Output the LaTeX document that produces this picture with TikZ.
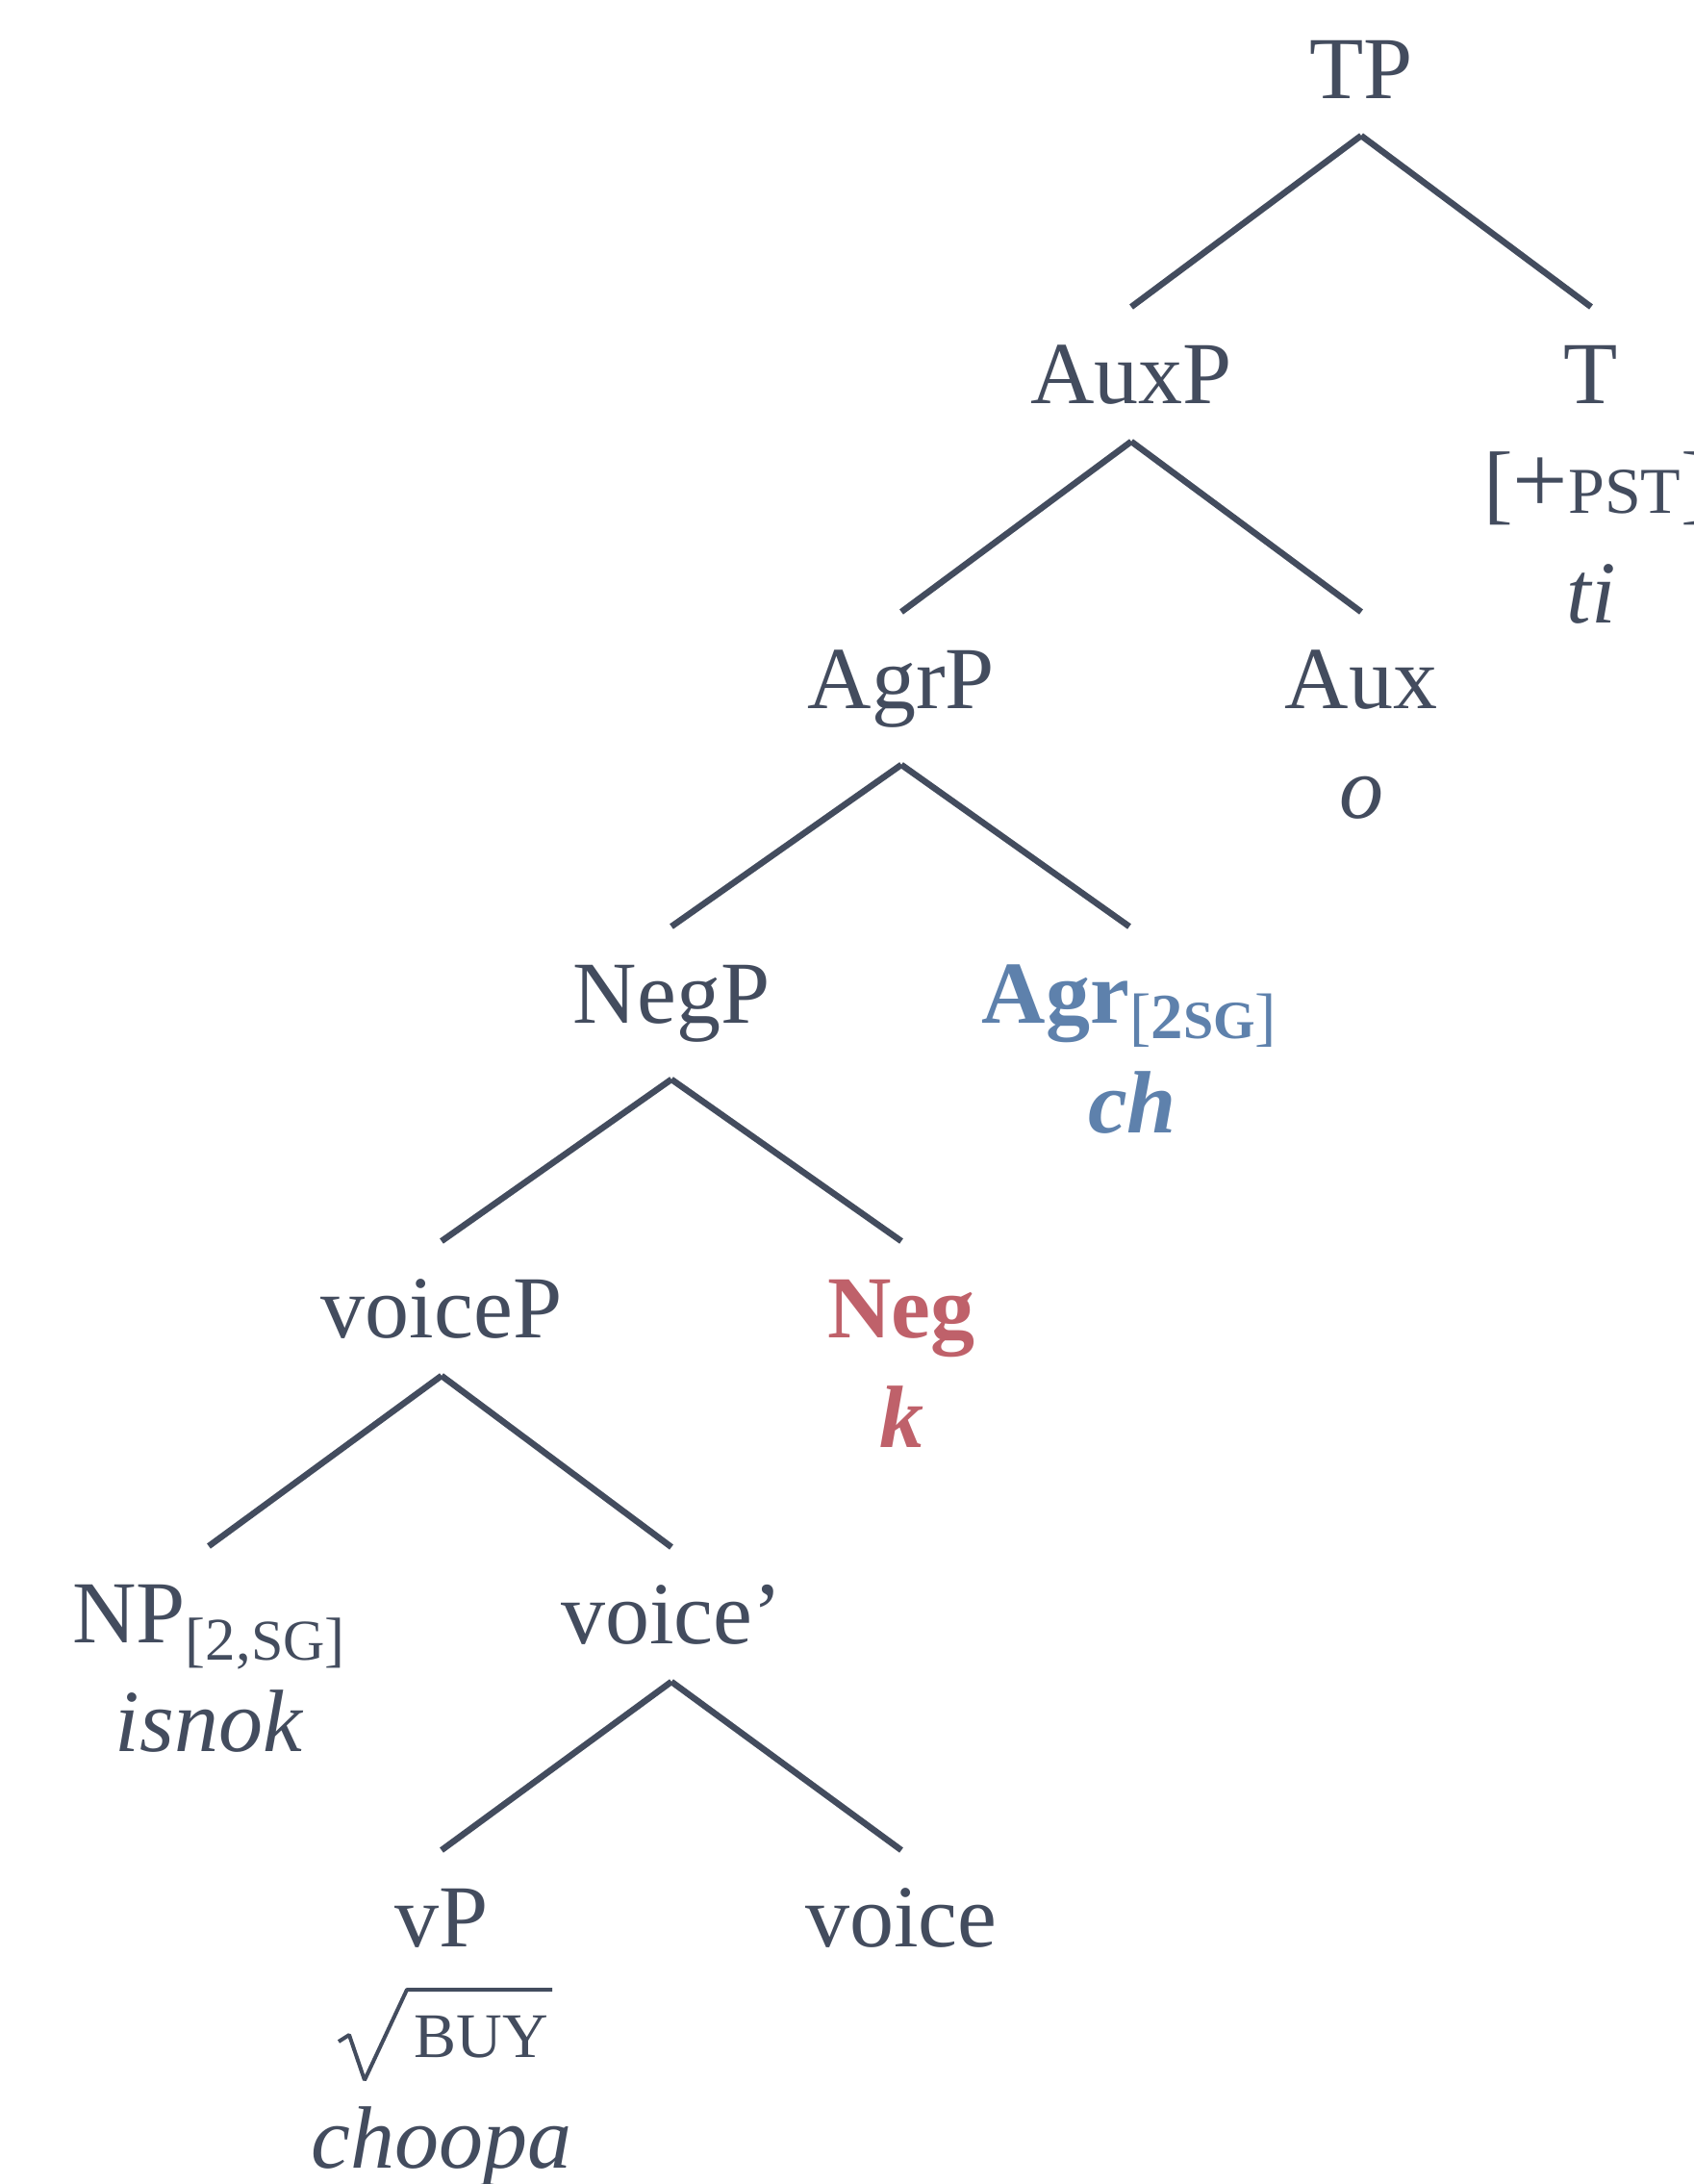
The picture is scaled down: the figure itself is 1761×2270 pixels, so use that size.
\documentclass[tikz,border=0pt]{standalone}
\usepackage{fontspec}
\setmainfont{Liberation Serif}
\definecolor{ink}{HTML}{434C5E}
\definecolor{aggblue}{HTML}{5E81AC}
\definecolor{negred}{HTML}{BF616A}
\newcommand\mainsz{\fontsize{92}{110}\selectfont}
\newcommand\fsz[2]{{\fontsize{#1}{#1}\selectfont #2}}
\begin{document}
\begin{tikzpicture}[x=1pt,y=-1pt,
  cat/.style={anchor=base, inner sep=0pt, outer xsep=0pt, outer ysep=39pt,
              text height=61pt, font=\mainsz, text=ink},
  sub/.style={anchor=base, inner sep=0pt, font=\mainsz, text=ink},
  lex/.style={anchor=base, inner sep=0pt, font=\mainsz\itshape, text=ink},
  branch/.style={draw=ink, line width=6.5pt, line cap=butt}]
\useasboundingbox (0,0) rectangle (1761,2270);

% row 0
\node[cat] (TP) at (1415,102) {TP};
% row 1
\node[cat] (AuxP) at (1176,419) {AuxP};
\node[cat] (T) at (1654,419) {T};
\node[sub] (Tfeat) at (1660,533) {[\fsz{102}{+}\fsz{68}{PST}]};
\node[lex] (Tform) at (1654,647) {ti};
% row 2
\node[cat] (AgrP) at (937,736) {AgrP};
\node[cat] (Aux) at (1415,736) {Aux};
\node[lex] (Auxform) at (1415,850) {o};
% row 3
\node[cat] (NegP) at (698,1063) {NegP};
\node[cat, text=aggblue] (Agr) at (1174,1063)
  {\textbf{Agr}\raisebox{-16pt}{\fsz{67}{[\textbf{2\fsz{56}{SG}}]}}};
\node[lex, text=aggblue, font=\mainsz\bfseries\itshape] (Agrform) at (1177,1177) {ch};
% row 4
\node[cat] (voiceP) at (459,1390) {voiceP};
\node[cat, text=negred, font=\mainsz\bfseries] (Neg) at (937,1390) {Neg};
\node[lex, text=negred, font=\mainsz\bfseries\itshape] (Negform) at (937,1504) {k};
% row 5
\node[cat] (NP) at (217,1707) {NP\raisebox{-18pt}{\fsz{63}{[2,\fsz{60}{SG}]}}};
\node[lex] (NPform) at (217,1820) {isnok};
\node[cat] (voicebar) at (698,1708) {voice’};
% row 6
\node[cat] (vP) at (459,2023) {vP};
\node[sub] (root) at (500,2138) {\fsz{66}{BUY}};
\node[lex] (vPform) at (459,2253) {choopa};
\node[cat] (voice) at (937,2023) {voice};

% radical sign over BUY
\coordinate (r1) at (352,2122);
\coordinate (r2) at (363,2115);
\coordinate (r3) at (379,2162);
\coordinate (r4) at (423,2068);
\coordinate (r5) at (574,2068);
\draw[ink, line width=4pt, line join=bevel] (r1) -- (r2) -- (r3) -- (r4) -- (r5);

% branches
\draw[branch] (TP.south) -- (AuxP.north);
\draw[branch] (TP.south) -- (T.north);
\draw[branch] (AuxP.south) -- (AgrP.north);
\draw[branch] (AuxP.south) -- (Aux.north);
\draw[branch] (AgrP.south) -- (NegP.north);
\draw[branch] (AgrP.south) -- (Agr.north);
\draw[branch] (NegP.south) -- (voiceP.north);
\draw[branch] (NegP.south) -- (Neg.north);
\draw[branch] (voiceP.south) -- (NP.north);
\draw[branch] (voiceP.south) -- (voicebar.north);
\draw[branch] (voicebar.south) -- (vP.north);
\draw[branch] (voicebar.south) -- (voice.north);
\end{tikzpicture}
\end{document}
